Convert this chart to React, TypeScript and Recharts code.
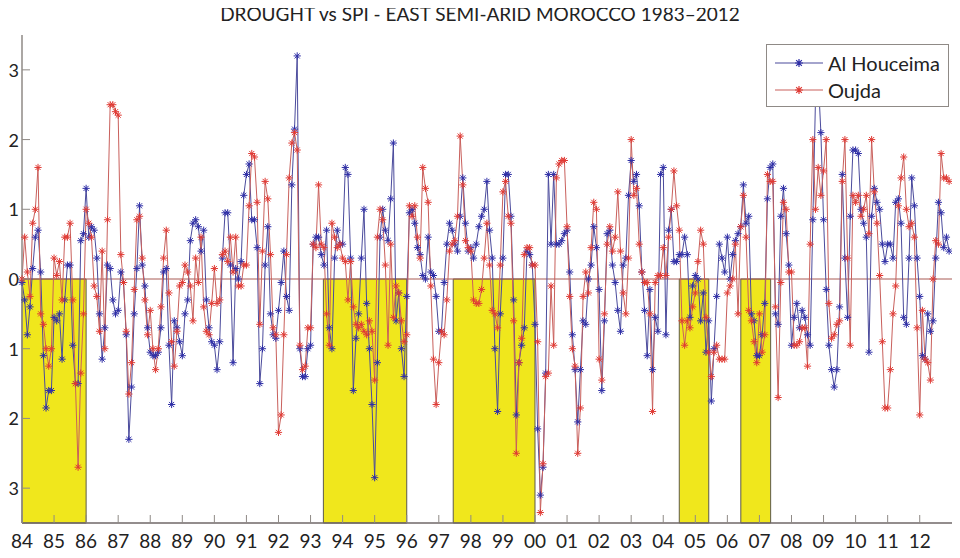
import { LineChart, Line, XAxis, YAxis, ReferenceArea, ReferenceLine } from 'recharts';

// monthly SPI, Jan 1984 .. Dec 2012
const years = [
  1984, 1985, 1986, 1987, 1988, 1989, 1990, 1991, 1992, 1993, 1994, 1995, 1996, 1997, 1998,
  1999, 2000, 2001, 2002, 2003, 2004, 2005, 2006, 2007, 2008, 2009, 2010, 2011, 2012,
];

const alHouceima = [
  -0.05, -0.3, -0.8, -0.4, 0.15, 0.6, 0.7, 0.1, -1.1, -1.85, -1.6, -1.6, // 84
  -0.55, -0.6, -0.5, -1.15, -0.3, 0.2, 0.2, -0.95, -1.5, -1.5, 0.55, 0.65, // 85
  1.3, 0.6, 0.75, 0.7, 0.3, -0.5, -1.15, -0.7, 0.2, 0.15, -0.3, -0.5, // 86
  -0.45, 0.1, -0.05, -0.8, -2.3, -1.55, -0.5, 0.15, 1.05, 0.2, -0.1, -0.7, // 87
  -1.05, -1.1, -1.1, -1.05, -0.7, 0.1, 0.15, -0.95, -1.8, -0.6, -0.7, -0.9, // 88
  -1.1, -0.5, -0.3, 0.55, 0.8, 0.85, 0.75, 0.4, 0.7, -0.3, -0.7, -0.9, // 89
  -0.95, -1.3, -0.9, 0.3, 0.95, 0.95, 0.2, -1.2, 0.15, 0.0, 0.25, 1.2, // 90
  1.5, 1.65, 0.85, 0.85, 0.45, -1.5, -1.0, 0.2, 0.75, -0.5, -0.8, -0.85, // 91
  -0.45, -0.05, 0.4, -0.25, -0.45, 1.35, 2.15, 3.2, -1.0, -1.4, -1.4, -1.0, // 92
  -0.95, 0.5, 0.6, 0.6, 0.35, 0.2, 0.7, -0.7, -1.0, 0.3, 0.7, 0.5, // 93
  0.5, 1.6, 1.5, 0.3, -1.6, -0.85, -0.5, 0.3, 1.0, -0.35, -1.0, -1.8, // 94
  -2.85, -1.2, 0.6, 1.0, 0.7, 0.55, 1.15, 1.95, -0.6, -0.2, -1.0, -1.4, // 95
  -0.25, 0.95, 1.0, 0.8, 0.45, 0.35, 0.05, 0.0, 0.6, 0.1, 0.05, -0.25, // 96
  -0.75, -0.75, -0.05, 0.5, 0.8, 0.7, 0.5, 0.4, 0.9, 1.45, 0.8, 0.4, // 97
  0.45, 0.3, 0.5, 0.75, 0.9, 1.0, 1.4, 0.7, 0.3, -1.0, -1.9, -0.5, // 98
  0.3, 1.5, 1.5, 0.9, -0.3, -1.95, -1.2, -0.95, -0.7, 0.4, 0.35, 0.2, // 99
  -0.65, -2.15, -3.1, -2.7, -1.35, 1.5, 0.5, 1.5, 0.5, 0.5, 0.55, 0.65, // 00
  0.7, 0.1, -0.8, -1.3, -2.05, -1.3, -0.6, -0.65, 0.0, 0.2, 0.75, 0.45, // 01
  -0.15, -1.6, -0.6, 0.65, 0.7, 0.2, -0.05, -0.45, -0.75, 0.2, 0.3, 1.2, // 02
  1.7, 1.4, 1.5, 1.05, 0.1, -0.45, -1.1, -0.15, -1.3, -0.55, -0.75, 1.5, // 03
  1.6, -0.8, 0.7, 1.0, 0.25, 0.25, 0.35, 0.35, 0.6, 0.35, -0.55, -0.1, // 04
  0.05, 0.0, -0.6, -0.2, -1.05, -0.6, -1.75, -1.0, -0.25, 0.5, 0.3, 0.1, // 05
  0.6, 0.0, 0.35, 0.55, 0.65, 0.75, 1.35, 0.8, 0.9, -0.5, -0.6, -1.1, // 06
  -1.1, -0.8, -0.35, 1.15, 1.6, 1.65, -0.5, -0.65, 0.9, 1.3, 0.65, 0.2, // 07
  -0.95, -0.55, -0.35, -0.7, -0.45, -0.55, -0.8, -0.95, 0.85, 2.6, 2.9, 2.1, // 08
  0.85, -0.15, -0.95, -1.3, -1.55, -1.3, -0.4, 1.5, 0.3, -0.55, 0.9, 1.85, // 09
  1.85, 1.8, 1.0, 0.8, 0.6, -1.05, 0.9, 1.3, 1.1, 1.0, 0.5, 0.25, // 10
  0.5, 0.5, 0.3, 1.1, 1.15, 0.8, -0.55, -0.65, 0.3, 1.45, 1.05, 0.3, // 11
  -0.25, -1.1, -1.15, -0.5, -0.75, -0.6, 0.3, 1.1, 0.95, 0.45, 0.6, 0.4, // 12
];

const oujda = [
  0.0, 0.6, 0.1, -0.25, 0.8, 1.0, 1.6, -0.5, -0.65, -1.0, -1.25, -1.0, // 84
  0.3, 0.05, 0.25, -0.3, 0.6, 0.6, 0.8, -0.3, -1.5, -2.7, -1.35, -0.5, // 85
  1.0, 0.8, 0.6, -0.1, -0.25, -0.75, 0.4, -1.0, 0.85, 2.5, 2.5, 2.4, // 86
  2.35, 0.35, -0.05, -0.75, -1.65, -1.2, -0.15, 0.85, 0.9, 0.3, -0.3, -0.8, // 87
  -0.45, -1.0, -1.3, -1.0, -0.4, 0.3, 0.7, -0.2, -0.9, -1.25, -0.75, -0.1, // 88
  -0.05, 0.2, 0.1, -0.1, -0.6, 0.3, -0.05, 0.6, -0.4, -0.75, -0.8, -0.35, // 89
  0.15, -0.35, -0.3, 0.35, 0.4, 0.25, 0.6, 0.1, 0.6, -0.1, -0.1, 0.2, // 90
  0.2, 1.05, 1.8, 1.75, 1.1, -0.65, 0.4, 1.4, 1.15, 0.35, -0.7, -0.8, // 91
  -2.2, -1.95, -0.8, 0.35, 1.45, 1.95, 2.1, 1.85, -0.95, -1.3, -1.25, -0.7, // 92
  -0.7, 0.5, 0.45, 1.35, 0.5, 0.45, -0.5, -0.95, 0.8, 0.6, 0.45, 0.5, // 93
  0.3, 0.25, -0.3, 0.25, -0.4, -0.65, -0.7, -0.65, -0.75, -0.8, -0.6, -0.75, // 94
  -1.45, 0.6, 1.0, 0.85, 0.2, -0.95, 0.5, -0.55, -0.1, -0.2, -0.6, -0.9, // 95
  -0.8, 1.05, 0.9, 1.05, 0.6, 0.3, 1.6, 1.3, 1.1, -0.1, -1.15, -1.8, // 96
  -1.2, -0.75, -0.8, -0.3, 0.4, 0.5, 0.55, 0.9, 2.05, 1.35, 0.55, 0.45, // 97
  0.4, -0.3, -0.35, -0.35, -0.15, 0.3, 0.8, 0.2, -0.45, -0.5, -0.7, 0.2, // 98
  1.25, 1.4, 0.9, 0.8, -0.6, -2.5, -1.2, -0.85, 0.35, 0.45, 0.45, 0.2, // 99
  0.2, -0.9, -3.35, -2.65, -1.4, -1.35, -0.1, -0.95, 1.45, 1.65, 1.7, 1.7, // 00
  0.75, -0.25, -1.0, -1.25, -2.5, -1.85, -0.25, 0.1, -0.2, 0.45, 1.1, 1.0, // 01
  -1.15, -1.45, -0.5, 0.5, 0.75, 0.4, 0.6, 1.25, 0.4, -0.2, -0.5, 0.3, // 02
  2.0, 1.2, 1.3, 0.5, 0.1, -0.05, -0.05, -0.5, -1.9, -0.05, 0.05, 0.05, // 03
  0.45, 0.05, 0.6, 1.0, 1.55, 1.05, 0.7, -0.6, -0.95, -0.6, -0.7, -0.4, // 04
  -0.2, 0.25, 0.7, 0.5, -0.55, -1.05, -1.4, -1.05, -0.95, -1.15, -1.15, -1.15, // 05
  -0.2, -0.1, 0.0, 0.5, -0.5, 0.75, 1.2, 0.6, -0.45, -0.6, -0.9, -1.2, // 06
  -0.5, -1.05, -0.8, 1.5, 1.4, 1.4, -0.4, -1.7, -0.05, 1.1, 1.0, 0.1, // 07
  0.1, -0.95, -0.95, -0.9, -0.7, -0.7, -1.25, 0.5, 2.0, 1.0, 1.6, 1.2, // 08
  1.55, 2.0, -0.35, -0.85, -0.8, -0.65, -0.6, 1.4, 2.0, 0.3, -0.95, 1.2, // 09
  1.1, 1.2, 0.9, 1.0, 1.2, 0.65, 2.0, 1.25, 0.8, 0.05, -0.9, -1.85, // 10
  -1.85, -1.3, -0.5, -0.1, 1.05, 1.45, 1.75, 1.0, 0.75, 0.8, 0.6, -0.7, // 11
  -1.95, -0.45, -1.15, -1.2, -1.45, 0.0, 0.55, 0.5, 1.8, 1.45, 1.45, 1.4, // 12
];

// drought episodes (decimal years)
const droughtStart = [1984, 1993.4, 1997.45, 2004.5, 2006.42];
const droughtEnd = [1986, 1996, 2000, 2005.42, 2007.35];

const yTicks = [-3, -2, -1, 0, 1, 2, 3];

const BLUE = '#2e2ea6';
const BLUE_LINE = '#4b4b9c';
const RED = '#e03a34';
const RED_LINE = '#c9605c';
const AXIS = '#6f6767';
const TICK = '#8f8a86';
const FONT = 'Lato, "Open Sans", sans-serif';

const rows = alHouceima.map((v, i) => ({ t: years[0] + i / 12, houceima: v, oujda: oujda[i] }));

function starPath(cx: number, cy: number, r: number) {
  const d = r * 0.7071;
  return `M${cx - r},${cy}h${2 * r}M${cx},${cy - r}v${2 * r}M${cx - d},${cy - d}l${2 * d},${2 * d}M${cx - d},${cy + d}l${2 * d},${-2 * d}`;
}

function Star(props: any) {
  const { cx, cy, color } = props;
  if (cx == null || cy == null) return null;
  return <path d={starPath(cx, cy, 3.6)} stroke={color} strokeWidth={1} fill="none" />;
}

function XTick({ x, y, payload }: any) {
  return (
    <g>
      <line x1={x} x2={x} y1={y - 8} y2={y - 16} stroke={TICK} />
      <text x={x} y={y + 17} textAnchor="middle" fontSize={19} fill="#222" fontFamily={FONT}>
        {String(payload.value).slice(2)}
      </text>
    </g>
  );
}

function YTick({ x, y, payload }: any) {
  return (
    <g>
      <line x1={x + 8} x2={x + 16} y1={y} y2={y} stroke={TICK} />
      <text x={x + 5} y={y + 7} textAnchor="end" fontSize={18} fill="#222" fontFamily={FONT}>
        {payload.value < 0 ? `-${Math.abs(payload.value)}` : payload.value}
      </text>
    </g>
  );
}

function LegendBox() {
  const items = [
    { label: 'Al Houceima', line: BLUE_LINE, mark: BLUE },
    { label: 'Oujda', line: RED_LINE, mark: RED },
  ];
  return (
    <div
      style={{
        position: 'absolute',
        top: 44,
        left: 766,
        background: '#fff',
        border: `1.5px solid ${TICK}`,
        width: 183,
        height: 63,
        boxSizing: 'border-box',
        padding: '4px 0 0 8px',
        fontFamily: FONT,
        fontSize: 20,
        color: '#222',
      }}
    >
      {items.map((it) => (
        <div key={it.label} style={{ display: 'flex', alignItems: 'center', height: 27 }}>
          <svg width={50} height={12} style={{ marginRight: 3 }}>
            <line x1={0} x2={48} y1={6} y2={6} stroke={it.line} strokeWidth={1.2} />
            <path d={starPath(24, 6, 4)} stroke={it.mark} strokeWidth={1.2} />
          </svg>
          <span>{it.label}</span>
        </div>
      ))}
    </div>
  );
}

export default function App() {
  return (
    <div style={{ position: 'relative', width: 960, height: 558, margin: -8, background: '#fff' }}>
      <div
        style={{
          position: 'absolute',
          top: 3,
          left: 0,
          width: 960,
          textAlign: 'center',
          fontFamily: FONT,
          fontSize: 19,
          lineHeight: '22px',
          color: '#222',
        }}
      >
        DROUGHT vs SPI - EAST SEMI-ARID MOROCCO 1983–2012
      </div>
      <LineChart width={960} height={558} data={rows} margin={{ top: 35, right: 5, bottom: 5, left: 0 }}>
        <XAxis
          dataKey="t"
          type="number"
          domain={[1984, 2013.1]}
          ticks={years}
          interval={0}
          tick={<XTick />}
          tickLine={false}
          axisLine={{ stroke: AXIS, strokeWidth: 1.5 }}
          height={30}
        />
        <YAxis
          type="number"
          domain={[-3.5, 3.5]}
          ticks={yTicks}
          interval={0}
          tick={<YTick />}
          tickLine={false}
          axisLine={{ stroke: TICK, strokeWidth: 1.5 }}
          width={22}
        />
        {droughtStart.map((s, i) => (
          <ReferenceArea
            key={s}
            x1={s}
            x2={droughtEnd[i]}
            y1={-3.5}
            y2={0}
            fill="#f0e71c"
            fillOpacity={1}
            stroke="#5e5a48"
            strokeWidth={1}
          />
        ))}
        <ReferenceLine y={0} stroke="#a85a55" strokeWidth={1} />
        <Line
          dataKey="houceima"
          name="Al Houceima"
          stroke={BLUE_LINE}
          strokeWidth={1}
          dot={(p: any) => <Star key={`h${p.index}`} {...p} color={BLUE} />}
          activeDot={false}
          isAnimationActive={false}
        />
        <Line
          dataKey="oujda"
          name="Oujda"
          stroke={RED_LINE}
          strokeWidth={1}
          dot={(p: any) => <Star key={`o${p.index}`} {...p} color={RED} />}
          activeDot={false}
          isAnimationActive={false}
        />
      </LineChart>
      <LegendBox />
    </div>
  );
}
